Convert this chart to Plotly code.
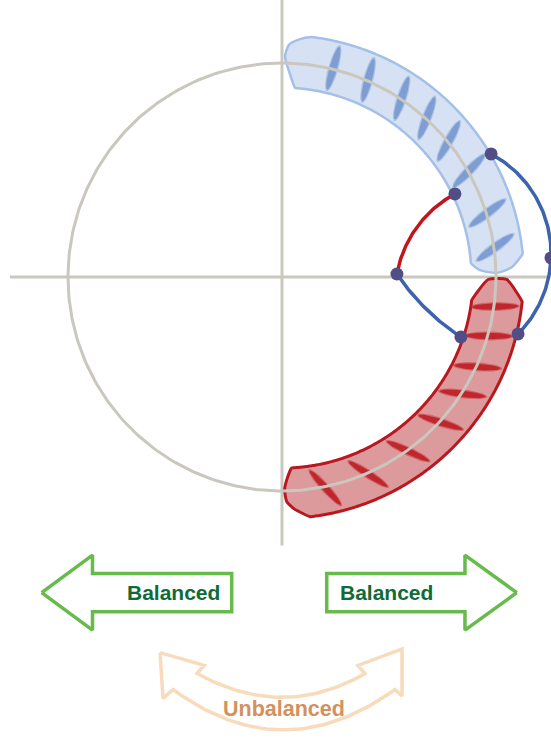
import numpy as np
import plotly.graph_objects as go

# ---------------- data (unit-circle coordinates: centre (0,0), radius 1) ----------------
circle_radius = 1.0
h_axis_span = [-1.271, 1.238]
v_axis_span = [-1.255, 1.30]

# uncertainty bands: [radius, start angle, end angle]
blue_outer = [1.130, 83.0, 5.6]
blue_inner = [0.885, 4.2, 86.0]
blue_end_cap = [(2.5, 1.076), (1.1, 1.005), (2.0, 0.926)]          # (angle, r)
blue_start_cap = [(88.0, 0.960), (89.2, 1.030), (88.3, 1.085), (86.0, 1.112)]

red_outer = [1.128, -5.9, -83.3]
red_inner = [0.893, -87.1, -7.0]
red_end_cap = [(-87.0, 1.085), (-88.8, 1.050), (-89.3, 0.995), (-88.6, 0.945)]
red_start_cap = [(-0.7, 0.963), (-0.6, 1.050)]

# stripe marks inside the bands
mark_radius = 1.005
blue_mark_angles = [76.2, 66.4, 56.2, 47.7, 39.2, 29.6, 17.3, 7.9]
blue_mark_tilts = [74, 75, 72, 69, 61, 46, 37, 36]
red_mark_angles = [-7.9, -15.9, -24.7, -32.9, -42.5, -54.1, -66.4, -78.4]
red_mark_tilts = [1, -1, -4, -7, -18, -25, -33, -48]

# points on the curves
pt_x = [0.977, 0.808, 0.537, 1.257, 0.836, 1.103]
pt_y = [0.575, 0.388, 0.014, 0.089, -0.280, -0.266]
red_curve_mid = (0.645, 0.252)
blue_curve_mid = (0.678, -0.154)

# bottom arrows
arrow_y = -1.475
shaft_half = 0.0897
head_half = 0.175
left_arrow_x = [-1.123, -0.8855, -0.235]     # tip, head base, tail
right_arrow_x = [1.097, 0.855, 0.209]
balanced_labels = ["Balanced", "Balanced"]
balanced_x = [-0.509, 0.486]
unbalanced_label = "Unbalanced"
unbalanced_pos = (0.009, -2.021)

# curved double arrow
ua_left_tip = (-0.570, -1.755)
ua_left_up = (-0.364, -1.815)
ua_left_notch_up = (-0.397, -1.853)
ua_up_ctrl = (0.005, -2.075)
ua_right_notch_up = (0.388, -1.853)
ua_right_up = (0.355, -1.815)
ua_right_tip = (0.561, -1.738)
ua_right_low = (0.561, -1.958)
ua_right_notch_low = (0.528, -1.928)
ua_low_ctrl = (0.005, -2.304)
ua_left_notch_low = (-0.509, -1.928)
ua_left_low = (-0.556, -1.969)

# ---------------- colours ----------------
GRAY = "#cac7bf"
BLUE_FILL = "#d6e2f3"
BLUE_EDGE = "#a2c0e8"
BLUE_MARK = "#7e9ed3"
RED_FILL = "#dd9a9c"
RED_EDGE = "#b8181e"
RED_MARK = "#c0272d"
RED_LINE = "#c0161c"
BLUE_LINE = "#3d63ae"
DOT = "#524e85"
GREEN = "#66bb4a"
DKGREEN = "#0f6b37"
PEACH = "#f7dbbb"
TAN = "#d3915d"


def pol(a, r):
    t = np.deg2rad(a)
    return r * np.cos(t), r * np.sin(t)


def band_outline(outer, end_cap, inner, start_cap):
    xs, ys = [], []
    a = np.linspace(outer[1], outer[2], 120)
    x, y = pol(a, outer[0]); xs += list(x); ys += list(y)
    for ang, r in end_cap:
        x, y = pol(ang, r); xs.append(x); ys.append(y)
    a = np.linspace(inner[1], inner[2], 120)
    x, y = pol(a, inner[0]); xs += list(x); ys += list(y)
    for ang, r in start_cap:
        x, y = pol(ang, r); xs.append(x); ys.append(y)
    xs.append(xs[0]); ys.append(ys[0])
    return xs, ys


def ellipse(ang, tilt, a, b):
    cx, cy = pol(ang, mark_radius)
    t = np.linspace(0, 2 * np.pi, 60)
    ph = np.deg2rad(tilt)
    x = cx + a * np.cos(t) * np.cos(ph) - b * np.sin(t) * np.sin(ph)
    y = cy + a * np.cos(t) * np.sin(ph) + b * np.sin(t) * np.cos(ph)
    return x, y


def arc3(p0, pm, p2, n=80):
    (x1, y1), (x2, y2), (x3, y3) = p0, pm, p2
    d = 2 * (x1 * (y2 - y3) + x2 * (y3 - y1) + x3 * (y1 - y2))
    ux = ((x1**2 + y1**2) * (y2 - y3) + (x2**2 + y2**2) * (y3 - y1) + (x3**2 + y3**2) * (y1 - y2)) / d
    uy = ((x1**2 + y1**2) * (x3 - x2) + (x2**2 + y2**2) * (x1 - x3) + (x3**2 + y3**2) * (x2 - x1)) / d
    r = np.hypot(x1 - ux, y1 - uy)
    a1 = np.arctan2(y1 - uy, x1 - ux)
    am = np.arctan2(y2 - uy, x2 - ux)
    a3 = np.arctan2(y3 - uy, x3 - ux)

    def norm(v):
        return v % (2 * np.pi)
    ccw_span = norm(a3 - a1)
    if norm(am - a1) <= ccw_span:
        angs = a1 + np.linspace(0, ccw_span, n)
    else:
        angs = a1 - np.linspace(0, 2 * np.pi - ccw_span, n)
    return ux + r * np.cos(angs), uy + r * np.sin(angs)


def qbez(p0, c, p2, n=60):
    t = np.linspace(0, 1, n)
    x = (1 - t) ** 2 * p0[0] + 2 * (1 - t) * t * c[0] + t ** 2 * p2[0]
    y = (1 - t) ** 2 * p0[1] + 2 * (1 - t) * t * c[1] + t ** 2 * p2[1]
    return list(x), list(y)


fig = go.Figure()

# axes
fig.add_trace(go.Scatter(x=h_axis_span, y=[0, 0], mode="lines",
                         line=dict(color=GRAY, width=3), hoverinfo="skip"))
fig.add_trace(go.Scatter(x=[0, 0], y=v_axis_span, mode="lines",
                         line=dict(color=GRAY, width=3), hoverinfo="skip"))

# blue band
bx, by = band_outline(blue_outer, blue_end_cap, blue_inner, blue_start_cap)
fig.add_trace(go.Scatter(x=bx, y=by, mode="lines", fill="toself", fillcolor=BLUE_FILL,
                         line=dict(color=BLUE_EDGE, width=2.5, shape="spline", smoothing=0.7),
                         hoverinfo="skip"))
for ang, tilt in zip(blue_mark_angles, blue_mark_tilts):
    ex, ey = ellipse(ang, tilt, 0.112, 0.024)
    fig.add_trace(go.Scatter(x=ex, y=ey, mode="lines", fill="toself", fillcolor=BLUE_MARK,
                             opacity=0.45, line=dict(width=0), hoverinfo="skip"))
    ex, ey = ellipse(ang, tilt, 0.104, 0.018)
    fig.add_trace(go.Scatter(x=ex, y=ey, mode="lines", fill="toself", fillcolor=BLUE_MARK,
                             line=dict(width=0), hoverinfo="skip"))

# red band
rx, ry = band_outline(red_outer, red_end_cap, red_inner, red_start_cap)
fig.add_trace(go.Scatter(x=rx, y=ry, mode="lines", fill="toself", fillcolor=RED_FILL,
                         line=dict(color=RED_EDGE, width=3, shape="spline", smoothing=0.5),
                         hoverinfo="skip"))
for ang, tilt in zip(red_mark_angles, red_mark_tilts):
    ex, ey = ellipse(ang, tilt, 0.116, 0.021)
    fig.add_trace(go.Scatter(x=ex, y=ey, mode="lines", fill="toself", fillcolor=RED_MARK,
                             opacity=0.45, line=dict(width=0), hoverinfo="skip"))
    ex, ey = ellipse(ang, tilt, 0.108, 0.015)
    fig.add_trace(go.Scatter(x=ex, y=ey, mode="lines", fill="toself", fillcolor=RED_MARK,
                             line=dict(width=0), hoverinfo="skip"))

# reference circle
t = np.linspace(0, 2 * np.pi, 361)
fig.add_trace(go.Scatter(x=circle_radius * np.cos(t), y=circle_radius * np.sin(t), mode="lines",
                         line=dict(color=GRAY, width=3), hoverinfo="skip"))

# curves
P = list(zip(pt_x, pt_y))
cx, cy = arc3(P[2], red_curve_mid, P[1])
fig.add_trace(go.Scatter(x=cx, y=cy, mode="lines", line=dict(color=RED_LINE, width=3.5),
                         hoverinfo="skip"))
cx, cy = arc3(P[2], blue_curve_mid, P[4])
fig.add_trace(go.Scatter(x=cx, y=cy, mode="lines", line=dict(color=BLUE_LINE, width=3.5),
                         hoverinfo="skip"))
cx, cy = arc3(P[0], P[3], P[5])
fig.add_trace(go.Scatter(x=cx, y=cy, mode="lines", line=dict(color=BLUE_LINE, width=3.5),
                         hoverinfo="skip"))

# dots
fig.add_trace(go.Scatter(x=pt_x, y=pt_y, mode="markers",
                         marker=dict(color=DOT, size=13, line=dict(width=0)), hoverinfo="skip"))

# green arrows
for (tip, base, tail) in [left_arrow_x, right_arrow_x]:
    ax = [tip, base, base, tail, tail, base, base, tip]
    ay = [arrow_y, arrow_y + head_half, arrow_y + shaft_half, arrow_y + shaft_half,
          arrow_y - shaft_half, arrow_y - shaft_half, arrow_y - head_half, arrow_y]
    fig.add_trace(go.Scatter(x=ax, y=ay, mode="lines", line=dict(color=GREEN, width=3.5),
                             hoverinfo="skip"))

# curved double arrow
ux_, uy_ = [ua_left_tip[0], ua_left_up[0]], [ua_left_tip[1], ua_left_up[1]]
qx, qy = qbez(ua_left_notch_up, ua_up_ctrl, ua_right_notch_up)
ux_ += qx; uy_ += qy
ux_ += [ua_right_up[0], ua_right_tip[0], ua_right_low[0]]
uy_ += [ua_right_up[1], ua_right_tip[1], ua_right_low[1]]
qx, qy = qbez(ua_right_notch_low, ua_low_ctrl, ua_left_notch_low)
ux_ += qx; uy_ += qy
ux_ += [ua_left_low[0], ua_left_tip[0]]
uy_ += [ua_left_low[1], ua_left_tip[1]]
fig.add_trace(go.Scatter(x=ux_, y=uy_, mode="lines", line=dict(color=PEACH, width=3.5),
                         hoverinfo="skip"))

FONT = "Liberation Sans, Arial, Helvetica, sans-serif"
for lab, x in zip(balanced_labels, balanced_x):
    fig.add_annotation(x=x, y=arrow_y, text="<b>%s</b>" % lab, showarrow=False,
                       font=dict(family=FONT, size=21, color=DKGREEN),
                       xanchor="center", yanchor="middle")
fig.add_annotation(x=unbalanced_pos[0], y=unbalanced_pos[1], text="<b>%s</b>" % unbalanced_label,
                   showarrow=False, font=dict(family=FONT, size=21.5, color=TAN),
                   xanchor="center", yanchor="middle")

fig.update_layout(
    width=551, height=744,
    margin=dict(l=0, r=0, t=0, b=0),
    paper_bgcolor="white", plot_bgcolor="white",
    showlegend=False,
    xaxis=dict(range=[-282 / 214, 269 / 214], visible=False, fixedrange=True),
    yaxis=dict(range=[-467 / 214, 277 / 214], visible=False, fixedrange=True),
)

fig.write_html("out.html", config={"displayModeBar": False},
               post_script="document.body.style.margin='0';document.body.style.overflow='hidden';")
